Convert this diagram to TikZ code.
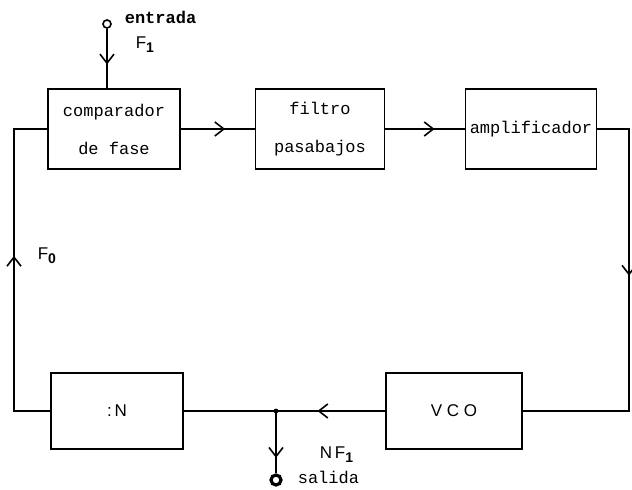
\documentclass[tikz,border=0pt]{standalone}
\usepackage{fontspec}
\setmainfont{Liberation Serif}
\setsansfont{Liberation Sans}
\setmonofont{Liberation Mono}
\usetikzlibrary{arrows.meta,decorations.markings}
\newcommand{\subi}[1]{\raisebox{-2pt}{\fontsize{7}{8}\selectfont\bfseries #1}}

\begin{document}
\begin{tikzpicture}[
    x=0.5pt, y=-0.5pt,
    line width=0.8pt,
    bloque/.style={draw, rectangle, minimum width=66pt, minimum height=40pt, align=center, inner sep=1pt, font=\ttfamily\fontsize{8.5}{10}\selectfont},
    etiq/.style={anchor=west, inner sep=0pt, font=\ttfamily\fontsize{8.5}{10}\selectfont},
    borne/.style={draw, circle, inner sep=0pt, minimum size=4pt, fill=white},
    midarrow/.style={postaction={decorate}, decoration={markings, mark=at position #1 with {\arrow{Straight Barb[length=4.5pt, width=7pt]}}}}
]
\useasboundingbox (0,0) rectangle (632,490);

% Bloques
\node[bloque] (comp) at (114,129) {comparador\\[9pt]de fase};
\node[bloque, minimum width=64.5pt] (filt) at (320,129) {filtro\\[9pt]pasabajos};
\node[bloque, minimum width=65.5pt] (amp) at (531,129) {amplificador};
\node[bloque, minimum height=38pt, font=\sffamily\fontsize{8.5}{10}\selectfont] (div) at (117,411) {:\,N};
\node[bloque, minimum width=68pt, minimum height=38pt, font=\sffamily\fontsize{8.5}{10}\selectfont] (vco) at (454,411) {V C O};

% Esquinas del lazo
\coordinate (ne) at (629,129);
\coordinate (se) at (629,411);
\coordinate (sw) at (14,411);
\coordinate (nw) at (14,129);
\coordinate (nodo) at (276,411);

% Entrada y salida
\node[borne] (ent) at (107,24) {};
\node[borne, line width=1.6pt, minimum size=5pt] (sal) at (276,480) {};
\draw[midarrow=0.6] (ent) -- (ent |- comp.north);
\fill (nodo) circle (1.2pt);
\draw[midarrow=0.75] (nodo) -- (sal);

% Lazo
\draw[midarrow=0.6] (comp.east) -- (filt.west);
\draw[midarrow=0.62] (filt.east) -- (amp.west);
\draw (amp.east) -- (ne) -- (se) -- (vco.east);
\draw[midarrow=0.52] (ne) -- (se);
\draw[midarrow=0.62] (vco.west) -- (nodo);
\draw (nodo) -- (div.east);
\draw (div.west) -- (sw) -- (nw) -- (comp.west);
\draw[midarrow=0.55] (sw) -- (nw);

% Etiquetas
\node[etiq, font=\ttfamily\bfseries\fontsize{8.5}{10}\selectfont] (lent) at (124,17) {entrada};
\node[etiq, font=\sffamily\fontsize{8.5}{10}\selectfont] (lf1) at (135,45) {F\subi{1}};
\node[etiq, font=\sffamily\fontsize{8.5}{10}\selectfont] (lf0) at (37,256) {F\subi{0}};
\node[etiq, font=\sffamily\fontsize{8.5}{10}\selectfont] (lnf) at (319,455) {N\,F\subi{1}};
\node[etiq] (lsal) at (297,477) {salida};
\end{tikzpicture}
\end{document}
